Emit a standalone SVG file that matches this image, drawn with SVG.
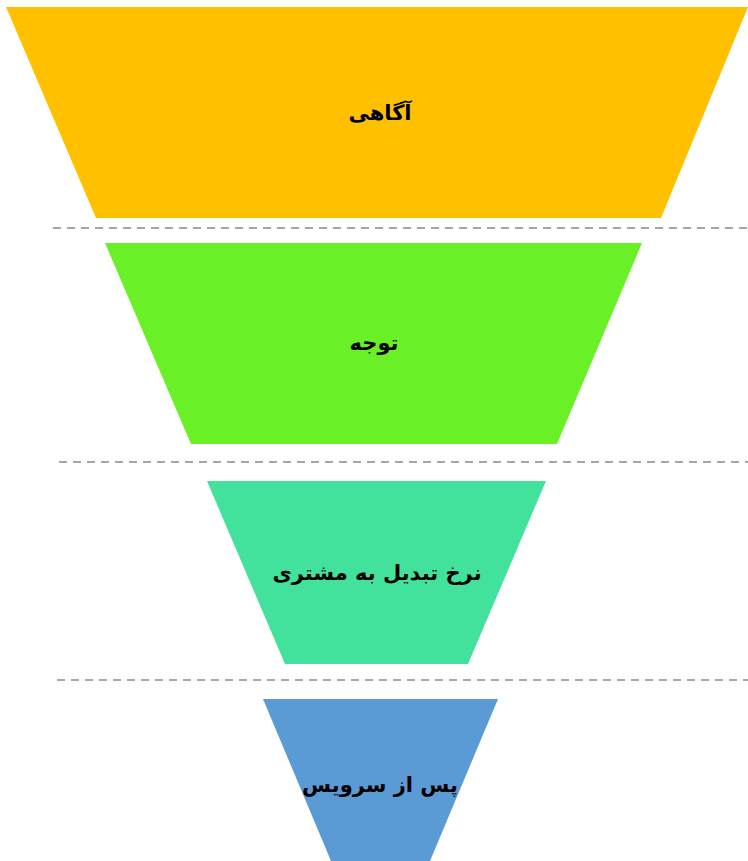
<svg xmlns="http://www.w3.org/2000/svg" width="748" height="861" viewBox="0 0 748 861">
<style>
.lbl{font-family:"DejaVu Sans","Noto Sans",sans-serif;font-size:21px;font-weight:bold;fill:#000;text-anchor:middle;direction:rtl}
.sep{stroke:#a6a6a6;stroke-width:2;stroke-dasharray:8 6;fill:none}
</style>
<rect width="748" height="861" fill="#fff"/>
<g id="connectors">
<line class="sep" x1="53" y1="228" x2="748" y2="228"/>
<line class="sep" x1="59" y1="462" x2="748" y2="462"/>
<line class="sep" x1="57" y1="680" x2="748" y2="680"/>
</g>
<g id="stage1">
<polygon points="6,7 748,7 661,218 96,218" fill="#FFC000"/>
<text class="lbl" x="380" y="120">آگاهی</text>
</g>
<g id="stage2">
<polygon points="105,243 642,243 557,444 191,444" fill="#6AF026"/>
<text class="lbl" x="374" y="350">توجه</text>
</g>
<g id="stage3">
<polygon points="207,481 546,481 468,664 285,664" fill="#42E29C"/>
<text class="lbl" x="377" y="580">نرخ تبدیل به مشتری</text>
</g>
<g id="stage4">
<polygon points="263,699 498,699 430,861 331,861" fill="#5B9BD5"/>
<text class="lbl" x="380" y="792">پس از سرویس</text>
</g>
</svg>
